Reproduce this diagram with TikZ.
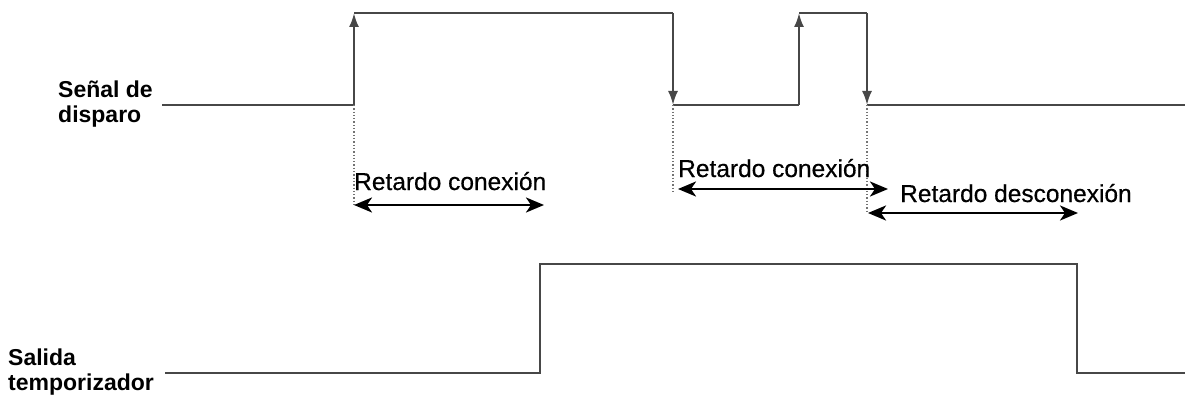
\documentclass[tikz,border=0pt]{standalone}
\usepackage{fontspec}
\setmainfont{Liberation Sans}
\newfontfamily\delayfont[FakeBold=0.5]{Liberation Sans}
\usetikzlibrary{arrows.meta}
\begin{document}
\begin{tikzpicture}[x=1pt,y=-1pt,
 sig/.style={draw=black!72, line width=2.2pt, line join=miter},
 edgearr/.style={-{Latex[length=14pt,width=10pt]}},
 delay/.style={draw=black, {Stealth[length=18pt,width=15pt,inset=5pt]}-{Stealth[length=18pt,width=15pt,inset=5pt]}, line width=2.6pt},
 guide/.style={draw=black!55, line width=1.3pt, dotted},
 lbl/.style={font=\bfseries\fontsize{23}{27}\selectfont, inner sep=0pt, anchor=base west},
 dtxt/.style={font=\delayfont\fontsize{24.5}{29}\selectfont, inner sep=0pt, anchor=base west}]
\useasboundingbox (0,0) rectangle (1185,401);
% trigger signal
\coordinate (a0) at (162,105);
\coordinate (a1) at (354,105);
\coordinate (a2) at (354,13);
\coordinate (a3) at (673,13);
\coordinate (a4) at (673,105);
\coordinate (a5) at (799,105);
\coordinate (a6) at (799,13);
\coordinate (a7) at (867,13);
\coordinate (a8) at (867,105);
\coordinate (a9) at (1185,105);
\draw[sig] (a0) -- (a1);
\draw[sig, edgearr] (a1) -- (a2);
\draw[sig] (a2) -- (a3);
\draw[sig, edgearr] (a3) -- (a4);
\draw[sig] (a4) -- (a5);
\draw[sig, edgearr] (a5) -- (a6);
\draw[sig] (a6) -- (a7);
\draw[sig, edgearr] (a7) -- (a8);
\draw[sig] (a8) -- (a9);
% guides
\coordinate (g1) at (354,205);
\coordinate (g2) at (673,193);
\coordinate (g3) at (867,213);
\draw[guide] (a1) -- (g1);
\draw[guide] (a4) -- (g2);
\draw[guide] (a8) -- (g3);
% delay arrows
\coordinate (d1s) at (354,205);
\coordinate (d1e) at (544,205);
\coordinate (d2s) at (678,189);
\coordinate (d2e) at (888,189);
\coordinate (d3s) at (868,213);
\coordinate (d3e) at (1078,213);
\draw[delay] (d1s) -- (d1e);
\draw[delay] (d2s) -- (d2e);
\draw[delay] (d3s) -- (d3e);
\node[dtxt] (t1) at (354,190) {Retardo conexión};
\node[dtxt] (t2) at (678,177) {Retardo conexión};
\node[dtxt] (t3) at (900,202) {Retardo desconexión};
% labels
\node[lbl] (l1a) at (58,98) {Señal de};
\node[lbl] (l1b) at (58,123) {disparo};
\node[lbl] (l2a) at (8,365) {Salida};
\node[lbl] (l2b) at (8,390) {temporizador};
% output signal
\coordinate (b0) at (165,373);
\coordinate (b1) at (540,373);
\coordinate (b2) at (540,264);
\coordinate (b3) at (1077,264);
\coordinate (b4) at (1077,373);
\coordinate (b5) at (1185,373);
\draw[sig] (b0) -- (b1) -- (b2) -- (b3) -- (b4) -- (b5);
\end{tikzpicture}
\end{document}
